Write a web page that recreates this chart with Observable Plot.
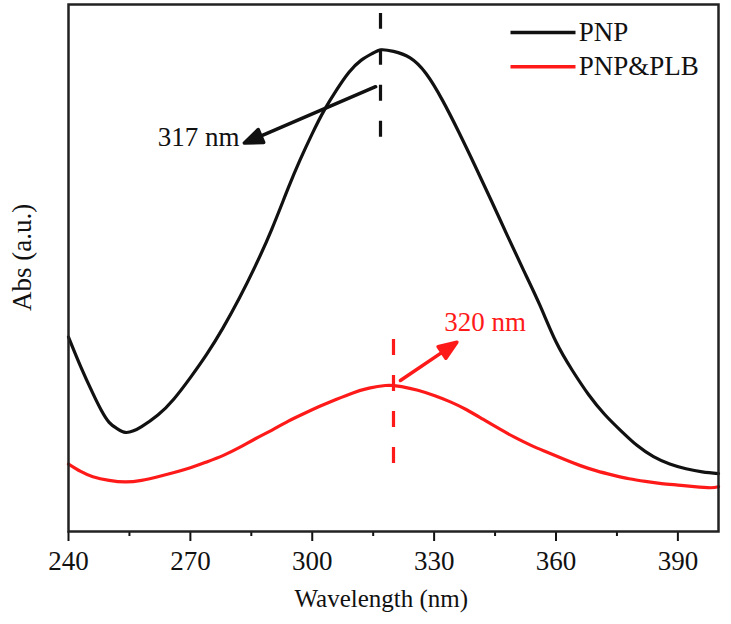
<!DOCTYPE html>
<html>
<head>
<meta charset="utf-8">
<script src="https://cdn.jsdelivr.net/npm/d3@7"></script>
<script src="https://cdn.jsdelivr.net/npm/@observablehq/plot@0.6"></script>
<style>
  html, body { margin: 0; padding: 0; background: #fff; }
</style>
</head>
<body>
<div id="chart"></div>
<script>
// Wavelength grid (nm) and absorbance (a.u.)
const wlPNP = [240,243,246,248,250,252,254,256,258,262,266,270,274,278,282,286,290,294,297,300,303,306,309,312,315,317,320,324,328,332,336,340,344,348,352,356,360,364,368,372,376,380,384,388,392,396,400];
const absPNP = [0.369,0.313,0.262,0.231,0.207,0.195,0.188,0.191,0.199,0.221,0.252,0.292,0.336,0.386,0.442,0.504,0.573,0.650,0.705,0.755,0.800,0.838,0.871,0.894,0.908,0.914,0.911,0.899,0.869,0.819,0.759,0.695,0.629,0.562,0.496,0.430,0.360,0.306,0.260,0.222,0.191,0.163,0.142,0.128,0.119,0.113,0.110];

const wlPLB = [240,243,246,250,254,258,262,266,270,274,278,282,286,290,294,298,302,306,310,314,318,320,322,326,330,334,338,342,346,350,354,358,362,366,370,374,378,382,386,390,394,398,400];
const absPLB = [0.128,0.114,0.104,0.097,0.094,0.097,0.104,0.112,0.121,0.132,0.144,0.159,0.176,0.192,0.209,0.224,0.238,0.251,0.263,0.272,0.277,0.277,0.275,0.268,0.258,0.246,0.231,0.213,0.195,0.178,0.163,0.150,0.137,0.125,0.115,0.107,0.100,0.095,0.091,0.088,0.085,0.083,0.085];

const seriesNames = ["PNP", "PNP&PLB"];
const seriesColors = ["#111111", "#ff1a1a"];

const majorTicks = [240, 270, 300, 330, 360, 390];
const minorTicks = [255, 285, 315, 345, 375];

// Peak annotations (data coordinates)
const peakLabels = ["317 nm", "320 nm"];
const peakX = [316.8, 320];
const peakY1 = [0.748, 0.129];
const peakY2 = [0.983, 0.366];
const arrowX1 = [315.6, 321.7];
const arrowY1 = [0.844, 0.2865];
const arrowX2 = [283.3, 335.6];
const arrowY2 = [0.737, 0.359];
const labelX = [282.1, 332.5];
const labelY = [0.748, 0.397];
const labelAnchor = ["end", "start"];

// Legend placement (data coordinates)
const legendX1 = 348.8, legendX2 = 364.8, legendTextX = 365.6;
const legendY = [0.947, 0.882];

// Layout
const W = 731, H = 624, mL = 68, mR = 13, mT = 4, mB = 93;
const xDomain = [240, 400], yDomain = [0, 1];
// helper scales matching the plot's, used only to orient the arrow glyphs
const xs = d3.scaleLinear(xDomain, [mL, W - mR]);
const ys = d3.scaleLinear(yDomain, [H - mB, mT]);

const pnp = wlPNP.map((w, i) => ({wl: w, abs: absPNP[i]}));
const plb = wlPLB.map((w, i) => ({wl: w, abs: absPLB[i]}));
const peaks = peakLabels.map((t, i) => {
  const dx = xs(arrowX2[i]) - xs(arrowX1[i]);
  const dy = ys(arrowY2[i]) - ys(arrowY1[i]);
  return {
    t, x: peakX[i], y1: peakY1[i], y2: peakY2[i],
    ax2: arrowX2[i], ay2: arrowY2[i],
    len: Math.hypot(dx, dy),
    rot: Math.atan2(dx, -dy) * 180 / Math.PI,
    lx: labelX[i], ly: labelY[i], anchor: labelAnchor[i], color: seriesColors[i]
  };
});
const legend = seriesNames.map((n, i) => ({n, y: legendY[i], color: seriesColors[i]}));

// filled-head arrow glyph for Plot.vector (drawn pointing up)
const filledArrow = {
  draw(context, l, r) {
    const h = 18;
    context.moveTo(0, 0);
    context.lineTo(0, -l + h * 0.7);
    context.moveTo(0, -l);
    context.lineTo(-r, -l + h);
    context.lineTo(r, -l + h);
    context.closePath();
  }
};

const serif = "'Liberation Serif', 'Times New Roman', serif";

const chart = Plot.plot({
  width: W,
  height: H,
  marginLeft: mL,
  marginRight: mR,
  marginTop: mT,
  marginBottom: mB,
  style: {fontFamily: serif, fontSize: "27px", color: "#111", background: "#fff"},
  x: {domain: xDomain},
  y: {domain: yDomain},
  length: {type: "identity"},
  marks: [
    Plot.axisX({ticks: majorTicks, tickSize: 10, tickPadding: 9, label: null, fontSize: 27, strokeWidth: 2, fontFamily: serif}),
    Plot.axisX({ticks: minorTicks, tickSize: 5, text: null, label: null, strokeWidth: 2}),
    Plot.axisY({ticks: [], label: null}),
    Plot.line(pnp, {x: "wl", y: "abs", stroke: seriesColors[0], strokeWidth: 3.2, curve: "natural"}),
    Plot.line(plb, {x: "wl", y: "abs", stroke: seriesColors[1], strokeWidth: 3.2, curve: "natural"}),
    Plot.ruleX(peaks, {x: "x", y1: "y1", y2: "y2", stroke: "color", strokeWidth: 3.2, strokeDasharray: "16,20"}),
    Plot.vector(peaks, {x: "ax2", y: "ay2", length: "len", rotate: "rot", anchor: "end", shape: filledArrow, r: 7, stroke: "color", fill: "color", strokeWidth: 3.5, strokeLinejoin: "round"}),
    Plot.text(peaks.filter(d => d.anchor === "end"), {x: "lx", y: "ly", text: "t", fill: "color", textAnchor: "end", fontSize: 27, fontFamily: serif}),
    Plot.text(peaks.filter(d => d.anchor === "start"), {x: "lx", y: "ly", text: "t", fill: "color", textAnchor: "start", fontSize: 27, fontFamily: serif}),
    Plot.link(legend, {x1: legendX1, x2: legendX2, y1: "y", y2: "y", stroke: "color", strokeWidth: 3.5}),
    Plot.text(legend, {x: legendTextX, y: "y", text: "n", fill: "#111", textAnchor: "start", fontSize: 27, fontFamily: serif}),
    Plot.text(["Wavelength (nm)"], {x: 317, frameAnchor: "bottom", dy: 75, fontSize: 25, fontFamily: serif, fill: "#111"}),
    Plot.text(["Abs (a.u.)"], {x: 240, y: 0.52, dx: -46, rotate: -90, fontSize: 27, fontFamily: serif, fill: "#111"}),
    Plot.frame({stroke: "#222", strokeWidth: 2.5})
  ]
});
document.getElementById("chart").appendChild(chart);
</script>
</body>
</html>
